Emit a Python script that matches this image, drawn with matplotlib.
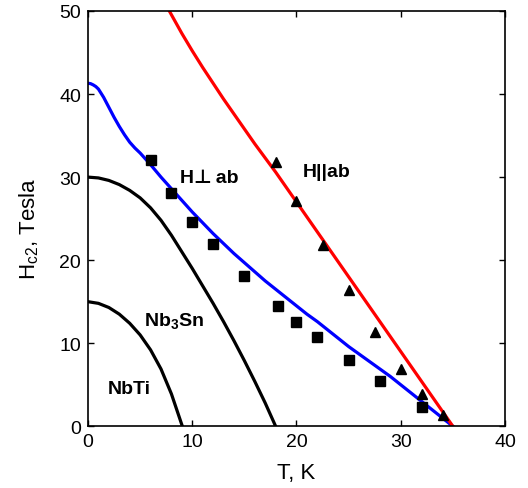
import matplotlib
matplotlib.use("Agg")
import matplotlib.pyplot as plt

plt.rcParams['font.family'] = ['Liberation Sans', 'DejaVu Sans']
plt.rcParams['mathtext.fontset'] = 'custom'
plt.rcParams['mathtext.rm'] = 'Liberation Sans'
plt.rcParams['mathtext.bf'] = 'Liberation Sans:bold'

# NbTi curve
t_nbti = [0, 1, 2, 3, 4, 5, 6, 7, 8, 9.05]
h_nbti = [15.0, 14.8, 14.3, 13.5, 12.4, 11.0, 9.2, 6.9, 3.9, 0.0]

# Nb3Sn curve
t_nb3sn = [0, 1, 2, 3, 4, 5, 6, 7, 8, 9, 10, 11, 12, 13, 14, 15, 16, 17, 18]
h_nb3sn = [30.0, 29.9, 29.6, 29.1, 28.4, 27.5, 26.3, 24.8, 23.0, 21.0,
           19.0, 16.9, 14.8, 12.6, 10.3, 7.9, 5.4, 2.8, 0.0]

# H perpendicular ab (blue)
t_perp = [0, 0.25, 0.5, 0.75, 1, 1.25, 1.5, 2, 2.5, 3, 3.5, 4, 4.5, 5, 6, 7,
          8, 9, 10, 11, 12, 13, 14, 15, 16, 17, 18, 19, 20, 21, 22, 23, 24,
          25, 26, 27, 28, 29, 30, 31, 32, 33, 34, 35]
h_perp = [41.3, 41.25, 41.1, 40.9, 40.6, 40.1, 39.6, 38.4, 37.2, 36.1, 35.1,
          34.2, 33.5, 32.9, 31.5, 30.0, 28.6, 27.2, 25.8, 24.5, 23.2, 22.0,
          20.8, 19.7, 18.6, 17.5, 16.5, 15.5, 14.5, 13.5, 12.6, 11.6, 10.6,
          9.6, 8.7, 7.8, 6.9, 6.0, 5.0, 4.0, 3.0, 2.0, 1.0, 0.0]

# H parallel ab (red)
t_par = [7.8, 9, 10, 11, 12, 13, 14, 15, 16, 17, 18, 19, 20, 21, 22, 23, 24,
         25, 26, 27, 28, 29, 30, 31, 32, 33, 34, 35]
h_par = [50.0, 47.3, 45.2, 43.2, 41.3, 39.4, 37.6, 35.8, 34.0, 32.3, 30.6,
         28.8, 27.0, 25.2, 23.4, 21.6, 19.8, 18.0, 16.2, 14.4, 12.6, 10.8,
         9.0, 7.2, 5.4, 3.6, 1.8, 0.0]

# measured points
t_sq = [6, 8, 10, 12, 15, 18.2, 20, 22, 25, 28, 32]
h_sq = [32.1, 28.1, 24.6, 22.0, 18.1, 14.5, 12.5, 10.8, 8.0, 5.4, 2.3]
t_tri = [18, 20, 22.5, 25, 27.5, 30, 32, 34.1]
h_tri = [31.8, 27.1, 21.8, 16.4, 11.3, 6.9, 3.9, 1.4]

fig = plt.figure(figsize=(5.28, 4.89), dpi=100)
ax = fig.add_axes([0.1667, 0.1262, 0.7897, 0.8493])

ax.plot(t_nbti, h_nbti, color='black', lw=2.3)
ax.plot(t_nb3sn, h_nb3sn, color='black', lw=2.3)
ax.plot(t_perp, h_perp, color='blue', lw=2.3)
ax.plot(t_par, h_par, color='red', lw=2.3)
ax.plot(t_sq, h_sq, 's', color='black', ms=6.5)
ax.plot(t_tri, h_tri, '^', color='black', ms=7.5)

ax.text(11.6, 30.0, "H\u22a5\u2009ab", fontsize=14, fontweight='bold', ha='center', va='center')
ax.text(22.9, 30.7, "H||ab", fontsize=14, fontweight='bold', ha='center', va='center')
ax.text(8.3, 12.7, r"Nb$_\mathbf{3}$Sn", fontsize=14, fontweight='bold', ha='center', va='center')
ax.text(4.0, 4.5, "NbTi", fontsize=14, fontweight='bold', ha='center', va='center')

ax.set_xlim(0, 40)
ax.set_ylim(0, 50)
ax.set_xticks([0, 10, 20, 30, 40])
ax.set_yticks([0, 10, 20, 30, 40, 50])
ax.tick_params(direction='in', top=True, right=True, length=4, width=1, labelsize=14, pad=5)
for s in ax.spines.values():
    s.set_linewidth(1.2)

ax.set_xlabel("T, K", fontsize=16, labelpad=8.5)
ax.set_ylabel(r"H$_{\rm c2}$, Tesla", fontsize=16)
ax.yaxis.set_label_coords(-0.112, 0.477)

fig.savefig("out.png", dpi=100)
